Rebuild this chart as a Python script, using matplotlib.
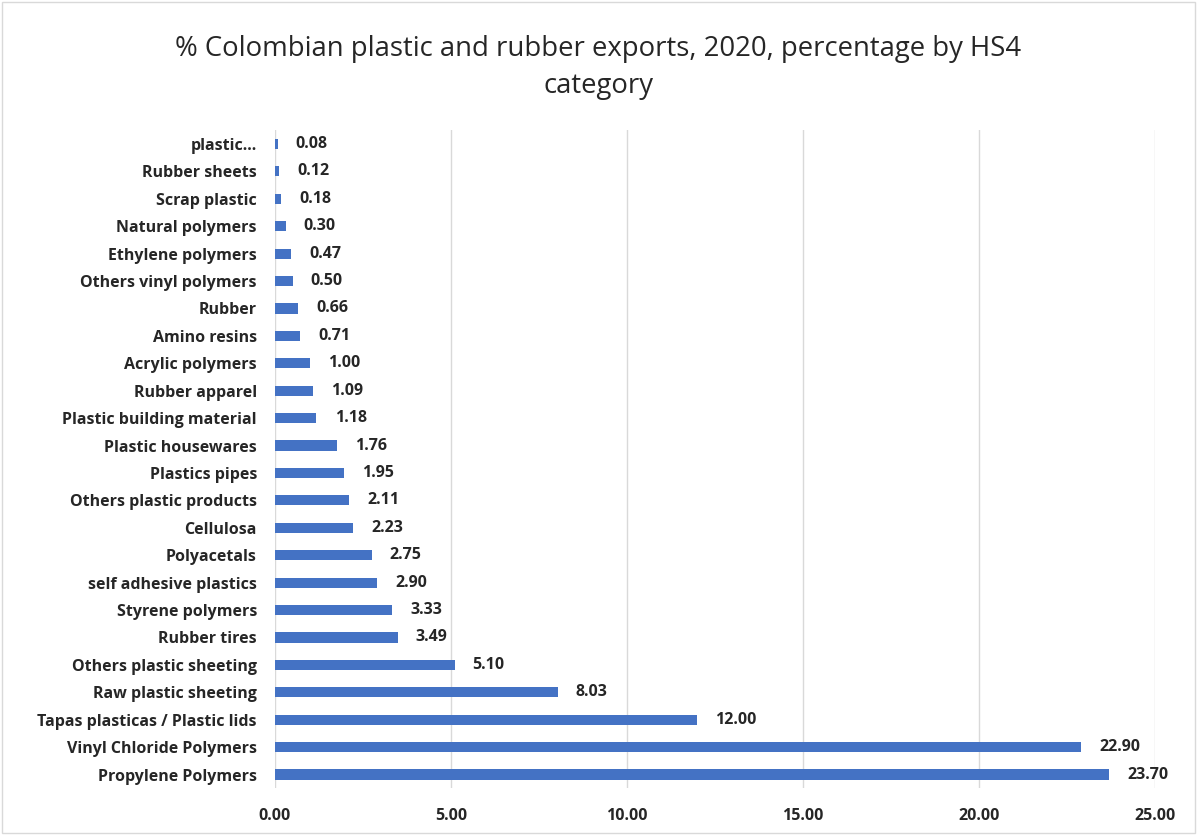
import matplotlib.pyplot as plt
from matplotlib.patches import Rectangle

categories = [
    "Propylene Polymers", "Vinyl Chloride Polymers", "Tapas plasticas / Plastic lids",
    "Raw plastic sheeting", "Others plastic sheeting", "Rubber tires", "Styrene polymers",
    "self adhesive plastics", "Polyacetals", "Cellulosa", "Others plastic products",
    "Plastics pipes", "Plastic housewares", "Plastic building material", "Rubber apparel",
    "Acrylic polymers", "Amino resins", "Rubber", "Others vinyl polymers",
    "Ethylene polymers", "Natural polymers", "Scrap plastic", "Rubber sheets", "plastic...",
]
values = [23.70, 22.90, 12.00, 8.03, 5.10, 3.49, 3.33, 2.90, 2.75, 2.23, 2.11, 1.95,
          1.76, 1.18, 1.09, 1.00, 0.71, 0.66, 0.50, 0.47, 0.30, 0.18, 0.12, 0.08]
xticks = [0, 5, 10, 15, 20, 25]

plt.rcParams['font.family'] = ['Open Sans', 'DejaVu Sans']

fig = plt.figure(figsize=(11.97, 8.35), dpi=100)
ax = fig.add_axes([0.2297, 0.056, 0.7353, 0.788])

ax.barh(range(len(categories)), values, height=0.37, color='#4472C4', zorder=3)
for i, v in enumerate(values):
    ax.annotate(f"{v:.2f}", (v, i), xytext=(13, 0), textcoords='offset points',
                va='center', ha='left', fontsize=11.5, fontweight='bold', color='#262626')

ax.set_ylim(-0.5, len(categories) - 0.5)
ax.set_xlim(0, 25)
ax.set_xticks(xticks)
ax.set_xticklabels([f"{t:.2f}" for t in xticks], fontsize=11.5, fontweight='bold', color='#262626')
ax.set_yticks(range(len(categories)))
ax.set_yticklabels(categories, fontsize=11.5, fontweight='bold', color='#262626')
ax.tick_params(length=0, pad=14)
ax.tick_params(axis='y', pad=13)
ax.grid(axis='x', color='#D9D9D9', linewidth=1, zorder=0)
for s in ax.spines.values():
    s.set_visible(False)

fig.text(0.5, 0.919, "% Colombian plastic and rubber exports, 2020, percentage by HS4\ncategory",
         ha='center', va='center', fontsize=19.8, color='#262626', linespacing=1.4)

fig.patches.append(Rectangle((0.002, 0.002), 0.996, 0.996, transform=fig.transFigure,
                             fill=False, edgecolor='#D9D9D9', linewidth=1))

fig.savefig('out.png', dpi=100)
